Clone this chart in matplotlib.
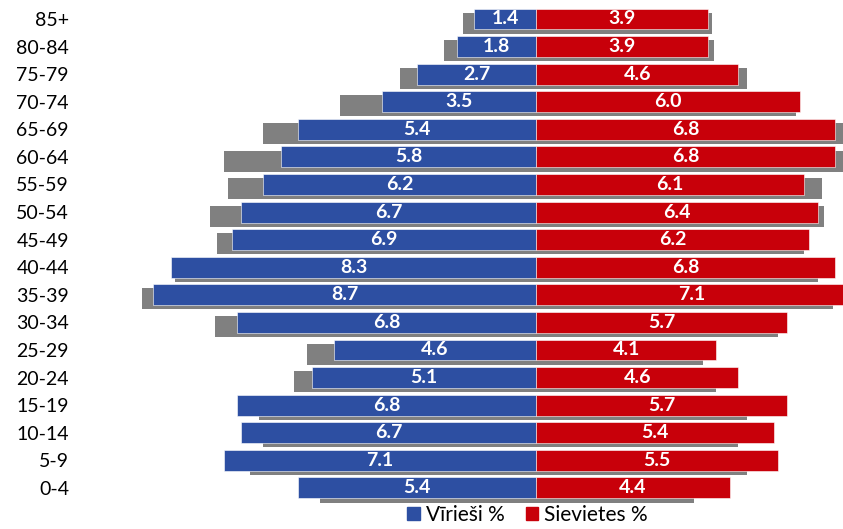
import numpy as np
import matplotlib.pyplot as plt
from matplotlib.patches import Patch

plt.rcParams['font.family'] = ['Lato', 'DejaVu Sans']

# age groups, bottom to top
ages = ['0-4', '5-9', '10-14', '15-19', '20-24', '25-29', '30-34', '35-39',
        '40-44', '45-49', '50-54', '55-59', '60-64', '65-69', '70-74',
        '75-79', '80-84', '85+']
men = [5.4, 7.1, 6.7, 6.8, 5.1, 4.6, 6.8, 8.7, 8.3, 6.9, 6.7, 6.2, 5.8,
       5.4, 3.5, 2.7, 1.8, 1.4]
women = [4.4, 5.5, 5.4, 5.7, 4.6, 4.1, 5.7, 7.1, 6.8, 6.2, 6.4, 6.1, 6.8,
         6.8, 6.0, 4.6, 3.9, 3.9]
# earlier comparison (gray shadow bars)
men_prev = [4.9, 6.5, 6.2, 6.3, 5.5, 5.2, 7.3, 8.95, 8.2, 7.25, 7.4, 7.0,
            7.1, 6.2, 4.45, 3.1, 2.1, 1.65]
women_prev = [3.6, 4.8, 4.6, 4.8, 4.1, 3.8, 5.5, 6.75, 6.4, 6.1, 6.55, 6.5,
              7.2, 7.2, 5.9, 4.8, 4.05, 4.0]

blue = '#2D4FA2'
red = '#C8000A'
gray = '#808080'

fig = plt.figure(figsize=(8.43, 5.29), dpi=100)
ax = fig.add_axes([80 / 843, 24 / 529, 763 / 843, 502 / 529])

y = np.arange(len(ages))
h = 0.76
off = 0.15

ax.barh(y - off, [-v for v in men_prev], height=h, color=gray, zorder=1)
ax.barh(y - off, women_prev, height=h, color=gray, zorder=1)
ax.barh(y, [-v for v in men], height=h, color=blue, zorder=2,
        edgecolor='white', linewidth=0.4)
ax.barh(y, women, height=h, color=red, zorder=2,
        edgecolor='white', linewidth=0.4)

for yi, m, w in zip(y, men, women):
    ax.text(-m / 2, yi, f'{m:.1f}', ha='center', va='center', color='white',
            fontsize=14, fontweight='bold', zorder=3)
    ax.text(w / 2, yi, f'{w:.1f}', ha='center', va='center', color='white',
            fontsize=14, fontweight='bold', zorder=3)

ax.set_xlim(-456 / 44, 307 / 44)
ax.set_ylim(-0.62, 17.58)
ax.set_yticks(y)
ax.set_yticklabels(ages, fontsize=14)
ax.tick_params(axis='y', length=0, pad=8)
ax.set_xticks([])
for s in ax.spines.values():
    s.set_visible(False)

handles = [Patch(color=blue, label='Vīrieši %'),
           Patch(color=red, label='Sievietes %')]
fig.legend(handles=handles, loc='lower center', bbox_to_anchor=(0.626, -0.028),
           ncol=2, frameon=False, fontsize=15, handlelength=0.6,
           handleheight=0.6, handletextpad=0.3, columnspacing=1.0)

fig.savefig('out.png', dpi=100)
